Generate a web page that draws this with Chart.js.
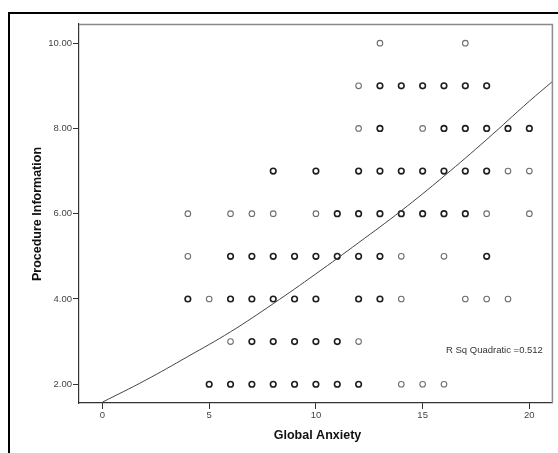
<!DOCTYPE html>
<html>
<head>
<meta charset="utf-8">
<script src="https://cdn.jsdelivr.net/npm/chart.js@4.4.1/dist/chart.umd.min.js"></script>
<style>
    html, body { margin: 0; padding: 0; background: #fff; }
    #wrap { width: 558px; height: 453px; position: relative; }
</style>
</head>
<body>
<div id="wrap"><canvas id="scatterChart" width="558" height="453"></canvas></div>
<script>
// Procedure Information vs Global Anxiety

// y levels and the x values seen on each row (dark = overlapping cases, light = single case)
const yLevels = [10, 9, 8, 7, 6, 5, 4, 3, 2];
const darkX = [
    [],
    [13, 14, 15, 16, 17, 18],
    [13, 16, 17, 18, 19, 20],
    [8, 10, 12, 13, 14, 15, 16, 17, 18],
    [11, 12, 13, 14, 15, 16, 17],
    [6, 7, 8, 9, 10, 11, 12, 13, 18],
    [4, 6, 7, 8, 9, 10, 12, 13],
    [7, 8, 9, 10, 11],
    [5, 6, 7, 8, 9, 10, 11, 12]
];
const lightX = [
    [13, 17],
    [12],
    [12, 15],
    [19, 20],
    [4, 6, 7, 8, 10, 18, 20],
    [4, 14, 16],
    [5, 14, 17, 18, 19],
    [6, 12],
    [14, 15, 16]
];

// quadratic fit line
const fitX = [0, 2, 4, 6, 8, 10, 12, 14, 16, 18, 20, 21.08];
const fitY = [1.58, 2.09, 2.65, 3.23, 3.89, 4.59, 5.32, 6.07, 6.88, 7.74, 8.64, 9.10];

// axes
const xTicks = [0, 5, 10, 15, 20];
const yTicks = [2, 4, 6, 8, 10];
const xTitle = 'Global Anxiety';
const yTitle = 'Procedure Information';
const fitLabel = 'R Sq Quadratic =0.512';

function toPoints(rows) {
    const pts = [];
    rows.forEach(function(xs, i) {
        xs.forEach(function(x) {
            pts.push({ x: x, y: yLevels[i] });
        });
    });
    return pts;
}

const fitPoints = fitX.map(function(x, i) {
    return { x: x, y: fitY[i] };
});

// frame, plot box and text labels
const decorations = {
    id: 'decorations',
    afterDraw: function(chart) {
        const ctx = chart.ctx;
        const area = chart.chartArea;
        ctx.save();

        // outer black frame (left and top visible)
        ctx.fillStyle = '#000';
        ctx.fillRect(8, 12, 2, 441);
        ctx.fillRect(8, 12, 550, 2);

        // top and right edges of the plot box
        ctx.strokeStyle = '#8a8a8a';
        ctx.lineWidth = 1.5;
        ctx.beginPath();
        ctx.moveTo(area.left, area.top + 0.5);
        ctx.lineTo(area.right, area.top + 0.5);
        ctx.lineTo(area.right, area.bottom);
        ctx.stroke();

        // axis titles
        ctx.fillStyle = '#111';
        ctx.font = 'bold 12.5px "Liberation Sans", Arial, sans-serif';
        ctx.textAlign = 'center';
        ctx.textBaseline = 'middle';
        ctx.fillText(xTitle, 317.5, 436);

        ctx.translate(38, 214);
        ctx.rotate(-Math.PI / 2);
        ctx.fillText(yTitle, 0, 0);
        ctx.setTransform(1, 0, 0, 1, 0, 0);

        // fit annotation
        ctx.fillStyle = '#333';
        ctx.font = '9.5px "Liberation Sans", Arial, sans-serif';
        ctx.textAlign = 'left';
        ctx.fillText(fitLabel, 446, 350);

        ctx.restore();
    }
};

const tickFont = { family: '"Liberation Sans", Arial, sans-serif', size: 9.5 };

new Chart(document.getElementById('scatterChart'), {
    type: 'scatter',
    data: {
        datasets: [
            {
                label: 'Fit',
                type: 'line',
                data: fitPoints,
                borderColor: '#444',
                borderWidth: 1,
                pointRadius: 0,
                fill: false,
                tension: 0.4
            },
            {
                label: 'Multiple',
                data: toPoints(darkX),
                pointStyle: 'circle',
                pointRadius: 2.8,
                borderWidth: 1.6,
                borderColor: '#1e1e1e',
                backgroundColor: 'rgba(255,255,255,0)'
            },
            {
                label: 'Single',
                data: toPoints(lightX),
                pointStyle: 'circle',
                pointRadius: 2.8,
                borderWidth: 1.1,
                borderColor: '#6e6e6e',
                backgroundColor: 'rgba(255,255,255,0)'
            }
        ]
    },
    options: {
        responsive: false,
        animation: false,
        layout: { padding: { left: 0, top: 24, right: 2, bottom: 0 } },
        plugins: {
            legend: { display: false },
            tooltip: { enabled: false }
        },
        scales: {
            x: {
                type: 'linear',
                min: -1.1,
                max: 21.08,
                afterBuildTicks: function(scale) {
                    scale.ticks = xTicks.map(function(v) { return { value: v }; });
                },
                afterFit: function(scale) { scale.height = 50; },
                border: { display: true, color: '#333', width: 1.2 },
                grid: { drawOnChartArea: false, drawTicks: true, tickLength: 6, color: '#333' },
                ticks: { font: tickFont, color: '#444', padding: 1, maxRotation: 0 }
            },
            y: {
                type: 'linear',
                min: 1.56,
                max: 10.45,
                afterBuildTicks: function(scale) {
                    scale.ticks = yTicks.map(function(v) { return { value: v }; });
                },
                afterFit: function(scale) { scale.width = 79; },
                border: { display: true, color: '#333', width: 1.2 },
                grid: { drawOnChartArea: false, drawTicks: true, tickLength: 6, color: '#333' },
                ticks: {
                    font: tickFont,
                    color: '#444',
                    padding: 1,
                    callback: function(v) { return Number(v).toFixed(2); }
                }
            }
        }
    },
    plugins: [decorations]
});
</script>
</body>
</html>
